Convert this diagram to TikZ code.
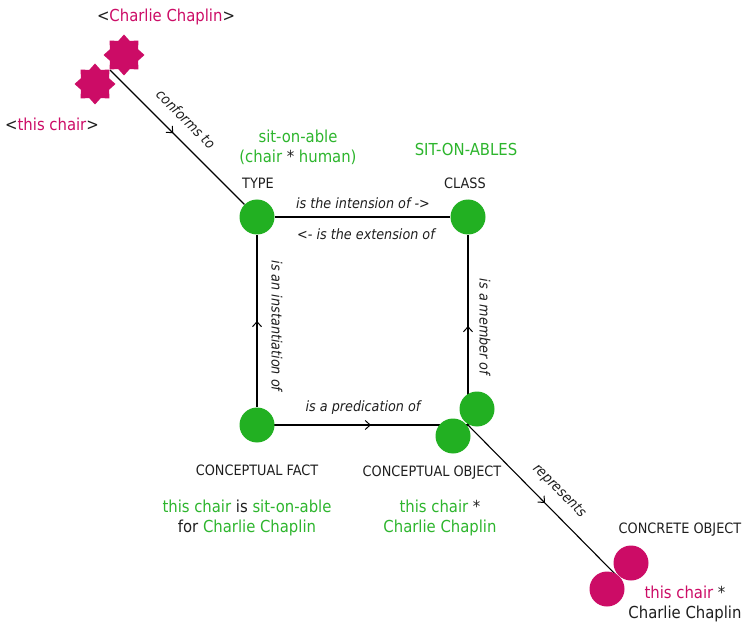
\documentclass[tikz,border=0pt]{standalone}
\usepackage{fontspec}
\setmainfont{DejaVu Sans Condensed}
\usetikzlibrary{shapes.geometric,arrows.meta,decorations.markings,backgrounds}
\definecolor{leaf}{RGB}{34,176,34}
\definecolor{leaftext}{RGB}{45,181,45}
\definecolor{berry}{RGB}{204,12,102}
\definecolor{ink}{RGB}{30,30,30}
\tikzset{
  dot/.style={circle,fill=#1,draw=none,inner sep=0pt,minimum size=35pt},
  burst/.style={star,star points=8,star point ratio=1.35,fill=berry,draw=none,inner sep=0pt,minimum size=41pt},
  caps/.style={text=ink,font=\fontsize{14.3}{16}\selectfont,inner sep=0pt},
  tag/.style={font=\fontsize{16.5}{20}\selectfont,inner sep=0pt,align=center},
  rel/.style={text=ink,font=\fontsize{14.2}{16}\selectfont\itshape,inner sep=0pt},
  edge/.style={draw=black,line width=2pt},
  link/.style={draw=black,line width=1.1pt},
  midarrow/.style={postaction={decorate,decoration={markings,
    mark=at position #1 with {\arrow{Straight Barb[length=5pt,width=9pt,line width=1pt]}}}}}
}
\begin{document}
\begin{tikzpicture}[x=1pt,y=-1pt]
\useasboundingbox (0,0) rectangle (745,623);

% square of concepts
\node[dot=leaf] (type) at (257,217) {};
\node[dot=leaf] (class) at (468,217) {};
\node[dot=leaf] (fact) at (257,425) {};
\node[dot=leaf] (objA) at (477,409) {};
\node[dot=leaf] (objB) at (453,436) {};
\coordinate (objJ) at (468,425);

% concrete object
\node[dot=berry] (conA) at (631,563) {};
\node[dot=berry] (conB) at (607,589) {};
\coordinate (conJ) at (616,575);

% individuals
\node[burst] (chaplin) at (124,55) {};
\node[burst] (chair) at (95,84) {};
\coordinate (indJ) at (110,70);

\begin{scope}[on background layer]
  \draw[edge] (type) -- (class);
  \draw[edge,midarrow=0.5] (fact) -- (type);
  \draw[edge,midarrow=0.54] (fact.center) -- (objJ);
  \draw[edge,midarrow=0.52] (class |- objJ) -- (class);
  \draw[link,midarrow=0.52] (objJ) -- (conJ);
  \draw[link,midarrow=0.47] (indJ) -- (type);
\end{scope}

% relation labels
\node[rel] (lint) at (363,203) {is the intension of ->};
\node[rel] (lext) at (366,234) {<- is the extension of};
\node[rel,rotate=-90] (linst) at (277,326) {is an instantiation of};
\node[rel,rotate=-90] (lmem) at (485,327) {is a member of};
\node[rel] (lpred) at (363,408) {is a predication of};
\node[rel,rotate=-45] (lconf) at (186,119) {conforms to};
\node[rel,rotate=-45] (lrep) at (559,491) {represents};

% kind labels
\node[caps] (ltype) at (258,183) {TYPE};
\node[caps] (lclass) at (465,183) {CLASS};
\node[caps] (lfact) at (257,470) {CONCEPTUAL FACT};
\node[caps] (lobj) at (432,473) {CONCEPTUAL OBJECT};
\node[caps] (lcon) at (680,530) {CONCRETE OBJECT};

% instances
\node[tag,text=leaftext] (tsit) at (298,147) {sit-on-able\\(chair {\color{ink}*} human)};
\node[tag,text=leaftext] (tsits) at (466,149) {SIT-ON-ABLES};
\node[tag,text=leaftext] (tfact) at (247,518) {this chair {\color{ink}is} sit-on-able\\{\color{ink}for} Charlie Chaplin};
\node[tag,text=leaftext] (tobj) at (440,518) {this chair {\color{ink}*}\\Charlie Chaplin};
\node[tag,text=ink] (tcon) at (685,604) {{\color{berry}this chair} *\\Charlie Chaplin};
\node[tag,text=ink] (tchap) at (166,17) {<{\color{berry}Charlie Chaplin}>};
\node[tag,text=ink] (tchair) at (52,124) {<{\color{berry}this chair}>};
\end{tikzpicture}
\end{document}
